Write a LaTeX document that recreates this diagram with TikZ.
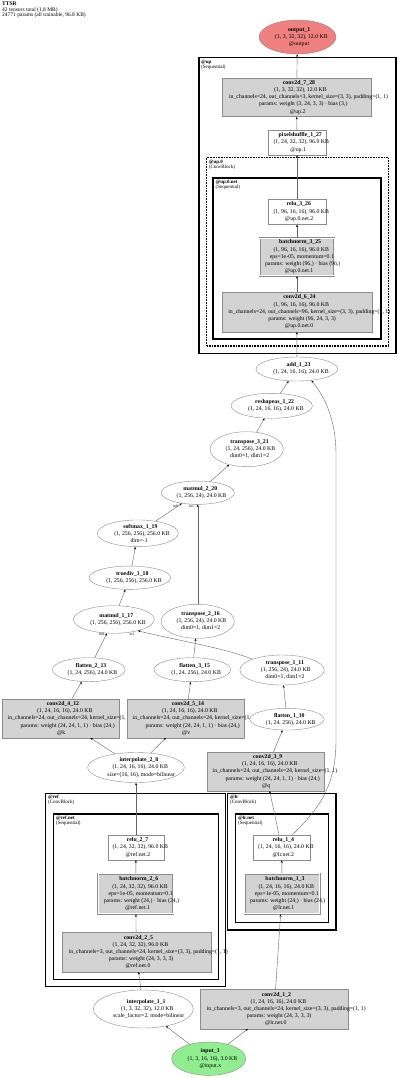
\documentclass[tikz,border=0pt]{standalone}
\usepackage{fontspec}
\setmainfont{Liberation Serif}
\usetikzlibrary{shapes.geometric,arrows.meta}
\definecolor{nodefill}{HTML}{D3D3D3}
\definecolor{nodeline}{HTML}{8C8C8C}
\definecolor{outfill}{HTML}{F08080}
\definecolor{infill}{HTML}{90EE90}
\definecolor{edgecol}{HTML}{666666}
\newsavebox\glbox
\newcommand\gl[1]{\sbox\glbox{#1}\makebox[0.848\wd\glbox][l]{\usebox\glbox}}
\tikzset{
 txt/.style={font=\fontsize{5.8}{7.2}\selectfont, align=center, inner sep=0},
 el/.style={ellipse, draw=nodeline, fill=white, line width=0.4pt, inner sep=0},
 bx/.style={rectangle, draw=nodeline, fill=white, line width=0.4pt, inner sep=0},
 gbx/.style={bx, fill=nodefill},
 dbx/.style={rectangle, draw=nodeline, double=white, double distance=1pt, line width=0.5pt, fill=nodefill, inner sep=0},
 clus/.style={draw=black, line width=1.4pt},
 clusdot/.style={clus, dash pattern=on 0.9pt off 0.7pt},
 cluslbl/.style={font=\fontsize{5}{5}\selectfont, align=left, inner sep=0, anchor=north west},
 edge/.style={draw=edgecol, line width=0.4pt, -{Stealth[length=2.6pt,width=2pt,color=black]}},
 elbl/.style={font=\fontsize{3.8}{4}\selectfont, inner sep=0},
}
\begin{document}
\begin{tikzpicture}[x=1pt,y=-1pt]
\fill[white] (0,0) rectangle (400,1078);
\useasboundingbox (0,0) rectangle (400,1078);

\node[anchor=north west, font=\fontsize{5.5}{5.8}\selectfont, align=left, inner sep=0] (hdr) at (2,1.5) {\textbf{TTSR}\\42 tensors total (1.8 MB)\\24771 params (all trainable, 96.8 KB)};

% clusters
\draw[clus] (199,57.7) rectangle (396,353.3);
\node[cluslbl] (lup) at (201,59.5) {\textbf{@up}\\(Sequential)};
\draw[clusdot] (206.7,157.7) rectangle (388.3,346);
\node[cluslbl] (lup0) at (208.7,159.5) {\textbf{@up.0}\\(ConvBlock)};
\draw[clus] (213,178) rectangle (381,339);
\node[cluslbl] (lup0net) at (215.5,180) {\textbf{@up.0.net}\\(Sequential)};
\draw[clus] (45.7,793.3) rectangle (225.7,986.7);
\node[cluslbl] (lref) at (48,795) {\textbf{@ref}\\(ConvBlock)};
\draw[clus] (53.3,814) rectangle (218.3,979.3);
\node[cluslbl] (lrefnet) at (56,816) {\textbf{@ref.net}\\(Sequential)};
\draw[clus] (227.7,793.3) rectangle (336,930);
\node[cluslbl] (llr) at (230,795) {\textbf{@lr}\\(ConvBlock)};
\draw[clus] (235.3,814) rectangle (328.3,922.7);
\node[cluslbl] (llrnet) at (238,816) {\textbf{@lr.net}\\(Sequential)};

% nodes
\node[el, fill=outfill, minimum width=77, minimum height=34, label={[txt]center:{\gl{\textbf{output\_1}}\\\gl{(1, 3, 32, 32), 12.0 KB}\\\gl{@output}}}] (out) at (297.5,37) {};
\node[gbx, minimum width=149, minimum height=38.7, label={[txt]center:{\gl{\textbf{conv2d\_7\_28}}\\\gl{(1, 3, 32, 32), 12.0 KB}\\\gl{in\_channels=24, out\_channels=3, kernel\_size=(3, 3), padding=(1, 1)}\\\gl{params: weight (3, 24, 3, 3) · bias (3,)}\\\gl{@up.2}}}] (c7) at (296.5,97.3) {};
\node[bx, minimum width=58, minimum height=25, label={[txt]center:{\gl{\textbf{pixelshuffle\_1\_27}}\\\gl{(1, 24, 32, 32), 96.0 KB}\\\gl{@up.1}}}] (ps) at (297,142.5) {};
\node[bx, minimum width=58, minimum height=25.3, label={[txt]center:{\gl{\textbf{relu\_3\_26}}\\\gl{(1, 96, 16, 16), 96.0 KB}\\\gl{@up.0.net.2}}}] (r3) at (297,211.7) {};
\node[dbx, minimum width=74.6, minimum height=37.4, label={[txt]center:{\gl{\textbf{batchnorm\_3\_25}}\\\gl{(1, 96, 16, 16), 96.0 KB}\\\gl{eps=1e-05, momentum=0.1}\\\gl{params: weight (96,) · bias (96,)}\\\gl{@up.0.net.1}}}] (bn3) at (297,257) {};
\node[gbx, minimum width=150.6, minimum height=39.4, label={[txt]center:{\gl{\textbf{conv2d\_6\_24}}\\\gl{(1, 96, 16, 16), 96.0 KB}\\\gl{in\_channels=24, out\_channels=96, kernel\_size=(3, 3), padding=(1, 1)}\\\gl{params: weight (96, 24, 3, 3)}\\\gl{@up.0.net.0}}}] (c6) at (297,312) {};
\node[el, minimum width=81.7, minimum height=24, label={[txt]center:{\gl{\textbf{add\_1\_23}}\\\gl{(1, 24, 16, 16), 24.0 KB}}}] (add) at (296.8,369) {};
\node[el, minimum width=81.3, minimum height=25, label={[txt]center:{\gl{\textbf{reshapeas\_1\_22}}\\\gl{(1, 24, 16, 16), 24.0 KB}}}] (rs) at (271.7,405.8) {};
\node[el, minimum width=73.3, minimum height=35, label={[txt]center:{\gl{\textbf{transpose\_3\_21}}\\\gl{(1, 24, 256), 24.0 KB}\\\gl{dim0=1, dim1=2}}}] (t3) at (246.7,449.2) {};
\node[el, minimum width=73.3, minimum height=23.3, label={[txt]center:{\gl{\textbf{matmul\_2\_20}}\\\gl{(1, 256, 24), 24.0 KB}}}] (mm2) at (197.7,492.7) {};
\node[el, minimum width=81, minimum height=26.7, label={[txt]center:{\gl{\textbf{softmax\_1\_19}}\\\gl{(1, 256, 256), 256.0 KB}\\\gl{dim=-1}}}] (sm) at (137.8,533.3) {};
\node[el, minimum width=81.7, minimum height=23.3, label={[txt]center:{\gl{\textbf{truediv\_1\_18}}\\\gl{(1, 256, 256), 256.0 KB}}}] (td) at (129.8,577.7) {};
\node[el, minimum width=81, minimum height=27.6, label={[txt]center:{\gl{\textbf{matmul\_1\_17}}\\\gl{(1, 256, 256), 256.0 KB}}}] (mm1) at (113.8,619.5) {};
\node[el, minimum width=73.3, minimum height=34, label={[txt]center:{\gl{\textbf{transpose\_2\_16}}\\\gl{(1, 256, 24), 24.0 KB}\\\gl{dim0=1, dim1=2}}}] (t2) at (197.7,621.3) {};
\node[el, minimum width=72.7, minimum height=24, label={[txt]center:{\gl{\textbf{flatten\_2\_13}}\\\gl{(1, 24, 256), 24.0 KB}}}] (f2) at (88.7,669.7) {};
\node[el, minimum width=76.7, minimum height=24, label={[txt]center:{\gl{\textbf{flatten\_3\_15}}\\\gl{(1, 24, 256), 24.0 KB}}}] (f3) at (192.3,669.7) {};
\node[el, minimum width=84.3, minimum height=30, label={[txt]center:{\gl{\textbf{transpose\_1\_11}}\\\gl{(1, 256, 24), 24.0 KB}\\\gl{dim0=1, dim1=2}}}] (t1) at (282,670) {};
\node[gbx, minimum width=117.6, minimum height=38.4, label={[txt]center:{\gl{\textbf{conv2d\_4\_12}}\\\gl{(1, 24, 16, 16), 24.0 KB}\\\gl{in\_channels=24, out\_channels=24, kernel\_size=(1, 1)}\\\gl{params: weight (24, 24, 1, 1) · bias (24,)}\\\gl{@k}}}] (c4) at (60.5,718.5) {};
\node[gbx, minimum width=117.6, minimum height=38.4, label={[txt]center:{\gl{\textbf{conv2d\_5\_14}}\\\gl{(1, 24, 16, 16), 24.0 KB}\\\gl{in\_channels=24, out\_channels=24, kernel\_size=(1, 1)}\\\gl{params: weight (24, 24, 1, 1) · bias (24,)}\\\gl{@v}}}] (c5) at (185.5,718.5) {};
\node[el, minimum width=74.3, minimum height=21.7, label={[txt]center:{\gl{\textbf{flatten\_1\_10}}\\\gl{(1, 24, 256), 24.0 KB}}}] (f1) at (287,719.2) {};
\node[el, minimum width=96.6, minimum height=30, label={[txt]center:{\gl{\textbf{interpolate\_2\_8}}\\\gl{(1, 24, 16, 16), 24.0 KB}\\\gl{size=(16, 16), mode=bilinear}}}] (i2) at (136,767.5) {};
\node[gbx, minimum width=117.6, minimum height=38.4, label={[txt]center:{\gl{\textbf{conv2d\_3\_9}}\\\gl{(1, 24, 16, 16), 24.0 KB}\\\gl{in\_channels=24, out\_channels=24, kernel\_size=(1, 1)}\\\gl{params: weight (24, 24, 1, 1) · bias (24,)}\\\gl{@q}}}] (c3) at (265.5,771.5) {};
\node[bx, minimum width=56.6, minimum height=25, label={[txt]center:{\gl{\textbf{relu\_2\_7}}\\\gl{(1, 24, 32, 32), 96.0 KB}\\\gl{@ref.net.2}}}] (r2) at (136,847.5) {};
\node[bx, minimum width=56.7, minimum height=25, label={[txt]center:{\gl{\textbf{relu\_1\_4}}\\\gl{(1, 24, 16, 16), 24.0 KB}\\\gl{@lr.net.2}}}] (r1) at (281.7,847.5) {};
\node[dbx, minimum width=75, minimum height=40.3, label={[txt]center:{\gl{\textbf{batchnorm\_2\_6}}\\\gl{(1, 24, 32, 32), 96.0 KB}\\\gl{eps=1e-05, momentum=0.1}\\\gl{params: weight (24,) · bias (24,)}\\\gl{@ref.net.1}}}] (bn2) at (135.8,893.8) {};
\node[dbx, minimum width=75, minimum height=40.3, label={[txt]center:{\gl{\textbf{batchnorm\_1\_3}}\\\gl{(1, 24, 16, 16), 24.0 KB}\\\gl{eps=1e-05, momentum=0.1}\\\gl{params: weight (24,) · bias (24,)}\\\gl{@lr.net.1}}}] (bn1) at (282,893.8) {};
\node[gbx, minimum width=149, minimum height=39.4, label={[txt]center:{\gl{\textbf{conv2d\_2\_5}}\\\gl{(1, 24, 32, 32), 96.0 KB}\\\gl{in\_channels=3, out\_channels=24, kernel\_size=(3, 3), padding=(1, 1)}\\\gl{params: weight (24, 3, 3, 3)}\\\gl{@ref.net.0}}}] (c2) at (136.2,952) {};
\node[el, minimum width=100, minimum height=38, label={[txt]center:{\gl{\textbf{interpolate\_1\_1}}\\\gl{(1, 3, 32, 32), 12.0 KB}\\\gl{scale\_factor=2, mode=bilinear}}}] (i1) at (143.3,1009) {};
\node[gbx, minimum width=148.3, minimum height=39.4, label={[txt]center:{\gl{\textbf{conv2d\_1\_2}}\\\gl{(1, 24, 16, 16), 24.0 KB}\\\gl{in\_channels=3, out\_channels=24, kernel\_size=(3, 3), padding=(1, 1)}\\\gl{params: weight (24, 3, 3, 3)}\\\gl{@lr.net.0}}}] (c1) at (274.2,1009) {};
\node[el, fill=infill, minimum width=74, minimum height=33.3, label={[txt]center:{\gl{\textbf{input\_1}}\\\gl{(1, 3, 16, 16), 3.0 KB}\\\gl{@input.x}}}] (in) at (208.7,1058.7) {};

% edges
\draw[edge] (c7) -- (out);
\draw[edge] (ps) -- (c7);
\draw[edge] (r3) -- (ps);
\draw[edge] (bn3) -- (r3);
\draw[edge] (c6) -- (bn3);
\draw[edge] (add) -- (c6);
\draw[edge] (rs) -- (add);
\draw[edge] (t3) -- (rs);
\draw[edge] (mm2) -- (t3);
\draw[edge] (sm) -- (mm2);
\draw[edge] (t2.north) -- (mm2.south);
\draw[edge] (td) -- (sm);
\draw[edge] (mm1) -- (td);
\draw[edge] (f2) -- (mm1);
\draw[edge] (t1.160) .. controls (225,648) and (175,640) .. (mm1.-25);
\draw[edge] (f3) -- (t2);
\draw[edge] (c4) -- (f2);
\draw[edge] (c5) -- (f3);
\draw[edge] (f1) -- (t1);
\draw[edge] (c3) -- (f1);
\draw[edge] (i2) -- (c4);
\draw[edge] (i2) -- (c5);
\draw[edge] (r1) -- (c3);
\draw[edge] (r1.50) .. controls (320,808) and (336,785) .. (336,740) -- (336,455) .. controls (336,418) and (324,396) .. (add.-38);
\draw[edge] (r2) -- (i2);
\draw[edge] (bn2) -- (r2);
\draw[edge] (c2) -- (bn2);
\draw[edge] (i1) -- (c2);
\draw[edge] (bn1) -- (r1);
\draw[edge] (c1) -- (bn1);
\draw[edge] (in) -- (i1);
\draw[edge] (in) -- (c1);

% edge head labels
\node[elbl] (h1) at (175.5,505.8) {in0};
\node[elbl] (h2) at (191.5,506.5) {in1};
\node[elbl] (h3) at (101.5,634.5) {in0};
\node[elbl] (h4) at (132,633.8) {in1};
\end{tikzpicture}
\end{document}
